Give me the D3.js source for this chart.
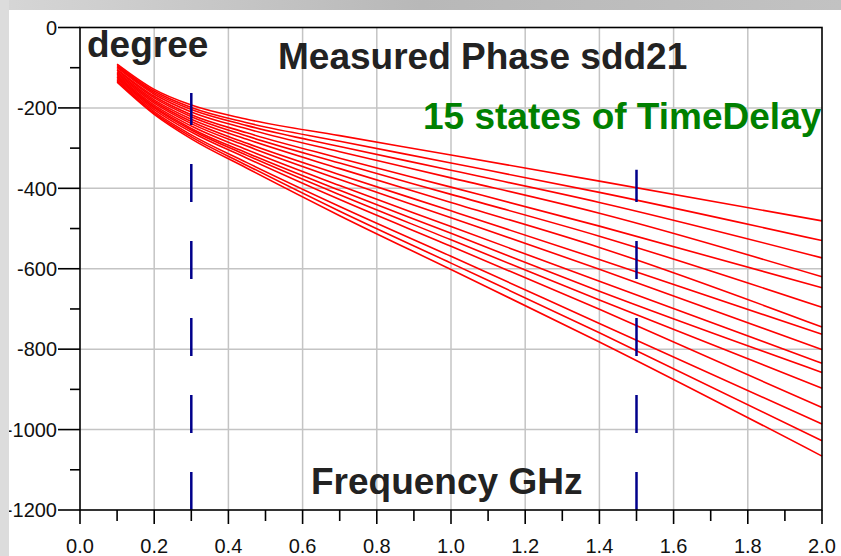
<!DOCTYPE html>
<html>
<head>
<meta charset="utf-8">
<script src="https://cdn.jsdelivr.net/npm/d3@7.9.0/dist/d3.min.js"></script>
<style>
  body { margin: 0; background: #fff; }
  svg { display: block; font-family: "Liberation Sans", Arial, sans-serif; }
</style>
</head>
<body>
<div id="chart"></div>
<script>
const freqs = [0.1, 0.2, 0.3, 0.45, 0.7, 1.0, 1.4, 2.0];

// measured phase (degree) of sdd21 for each time delay state
const phaseStates = [
    [-91, -154, -193, -228, -269, -317, -382, -481],
    [-94, -158, -199, -237, -283, -337, -410, -530],
    [-97, -162, -204, -244, -296, -355, -435, -573],
    [-100, -166, -210, -252, -309, -374, -462, -620],
    [-104, -171, -217, -262, -325, -397, -494, -647],
    [-106, -175, -222, -270, -337, -415, -519, -696],
    [-110, -180, -228, -278, -351, -435, -547, -745],
    [-113, -184, -234, -288, -366, -456, -577, -763],
    [-116, -188, -239, -295, -378, -473, -601, -801],
    [-119, -193, -245, -304, -393, -495, -631, -835],
    [-122, -197, -251, -312, -405, -512, -656, -858],
    [-124, -200, -255, -318, -416, -528, -678, -897],
    [-127, -204, -260, -325, -428, -544, -701, -945],
    [-131, -209, -267, -336, -445, -569, -736, -986],
    [-133, -213, -272, -343, -457, -586, -759, -1028],
    [-136, -216, -277, -350, -468, -602, -782, -1066]
];

// blue marker lines: frequency and top of the marker (degree)
const markerFreqs = [0.3, 1.5];
const markerTops = [-163, -354];

const xTicks = d3.range(0, 2.001, 0.1);
const yTicks = d3.range(0, -1201, -100);
const yLabels = ['0', '-200', '-400', '-600', '-800', '-1000', '-1200'];

const width = 841;
const height = 556;

const svg = d3.select('#chart')
    .append('svg')
    .attr('width', width)
    .attr('height', height);

svg.append('rect')
    .attr('width', width)
    .attr('height', height)
    .attr('fill', '#fff');

const xScale = d3.scaleLinear().domain([0, 2]).range([80, 822]);
const yScale = d3.scaleLinear().domain([0, -1200]).range([27.5, 510]);

const isMajorX = (d) => Math.round(d * 10) % 2 === 0;
const isMajorY = (d) => Math.round(d / 100) % 2 === 0;

// grid
const grid = svg.append('g').attr('stroke', '#c4c4c4').attr('stroke-width', 1.5);
grid.selectAll('line.gx')
    .data(xTicks.filter(isMajorX).slice(1, -1))
    .join('line')
    .attr('class', 'gx')
    .attr('x1', (d) => xScale(d)).attr('x2', (d) => xScale(d))
    .attr('y1', yScale(0)).attr('y2', yScale(-1200));
grid.selectAll('line.gy')
    .data(yTicks.filter(isMajorY).slice(1, -1))
    .join('line')
    .attr('class', 'gy')
    .attr('x1', xScale(0)).attr('x2', xScale(2))
    .attr('y1', (d) => yScale(d)).attr('y2', (d) => yScale(d));

// phase curves
const line = d3.line()
    .x((d, i) => xScale(freqs[i]))
    .y((d) => yScale(d))
    .curve(d3.curveMonotoneX);

svg.append('g')
    .selectAll('path')
    .data(phaseStates)
    .join('path')
    .attr('d', line)
    .attr('fill', 'none')
    .attr('stroke', '#ff0000')
    .attr('stroke-width', 1.6);

// dashed markers, dashes start from the bottom axis
svg.append('g')
    .selectAll('line')
    .data(markerFreqs)
    .join('line')
    .attr('x1', (d) => xScale(d)).attr('x2', (d) => xScale(d))
    .attr('y1', yScale(-1200))
    .attr('y2', (d, i) => yScale(markerTops[i]))
    .attr('stroke', '#00008b')
    .attr('stroke-width', 2.5)
    .attr('stroke-dasharray', '38 39');

// axes frame and ticks
const axes = svg.append('g').attr('stroke', '#000').attr('stroke-width', 1.6);

axes.selectAll('line.ty')
    .data(yTicks)
    .join('line')
    .attr('class', 'ty')
    .attr('x1', (d) => xScale(0) - (isMajorY(d) ? 22 : 10))
    .attr('x2', xScale(0))
    .attr('y1', (d) => yScale(d)).attr('y2', (d) => yScale(d));

axes.selectAll('line.tx')
    .data(xTicks)
    .join('line')
    .attr('class', 'tx')
    .attr('x1', (d) => xScale(d)).attr('x2', (d) => xScale(d))
    .attr('y1', yScale(-1200))
    .attr('y2', (d) => yScale(-1200) + (isMajorX(d) ? 14 : 11));

axes.append('rect')
    .attr('x', xScale(0)).attr('y', yScale(0))
    .attr('width', xScale(2) - xScale(0))
    .attr('height', yScale(-1200) - yScale(0))
    .attr('fill', 'none');

// tick labels
svg.append('g')
    .selectAll('text')
    .data(yTicks.filter(isMajorY))
    .join('text')
    .attr('x', 57)
    .attr('y', (d) => yScale(d))
    .attr('dy', '0.36em')
    .attr('text-anchor', 'end')
    .attr('font-size', 20)
    .attr('fill', '#111')
    .text((d, i) => yLabels[i]);

svg.append('g')
    .selectAll('text')
    .data(xTicks.filter(isMajorX))
    .join('text')
    .attr('x', (d) => xScale(d))
    .attr('y', 553)
    .attr('text-anchor', 'middle')
    .attr('font-size', 20)
    .attr('fill', '#111')
    .text((d) => d3.format('.1f')(d));

// titles
const titles = svg.append('g')
    .attr('font-size', 37)
    .attr('font-weight', 'bold');

titles.append('text').attr('x', 87).attr('y', 57).attr('fill', '#222').text('degree');
titles.append('text').attr('x', 278).attr('y', 69).attr('fill', '#222').text('Measured Phase sdd21');
titles.append('text').attr('x', 423).attr('y', 129).attr('fill', '#008000').text('15 states of TimeDelay');
titles.append('text').attr('x', 311).attr('y', 494).attr('fill', '#222').text('Frequency GHz');

// slide background showing round the white panel
const bg = svg.append('defs').append('linearGradient')
    .attr('id', 'topbg').attr('x1', 0).attr('x2', 1).attr('y1', 0).attr('y2', 0);
bg.append('stop').attr('offset', '0%').attr('stop-color', '#d6d6d6');
bg.append('stop').attr('offset', '50%').attr('stop-color', '#b8b8b8');
bg.append('stop').attr('offset', '100%').attr('stop-color', '#c2c2c2');

svg.append('rect').attr('x', 0).attr('y', 0).attr('width', width).attr('height', 10).attr('fill', 'url(#topbg)');
svg.append('rect').attr('x', 0).attr('y', 0).attr('width', 9).attr('height', height).attr('fill', '#dcdcdc');
</script>
</body>
</html>
